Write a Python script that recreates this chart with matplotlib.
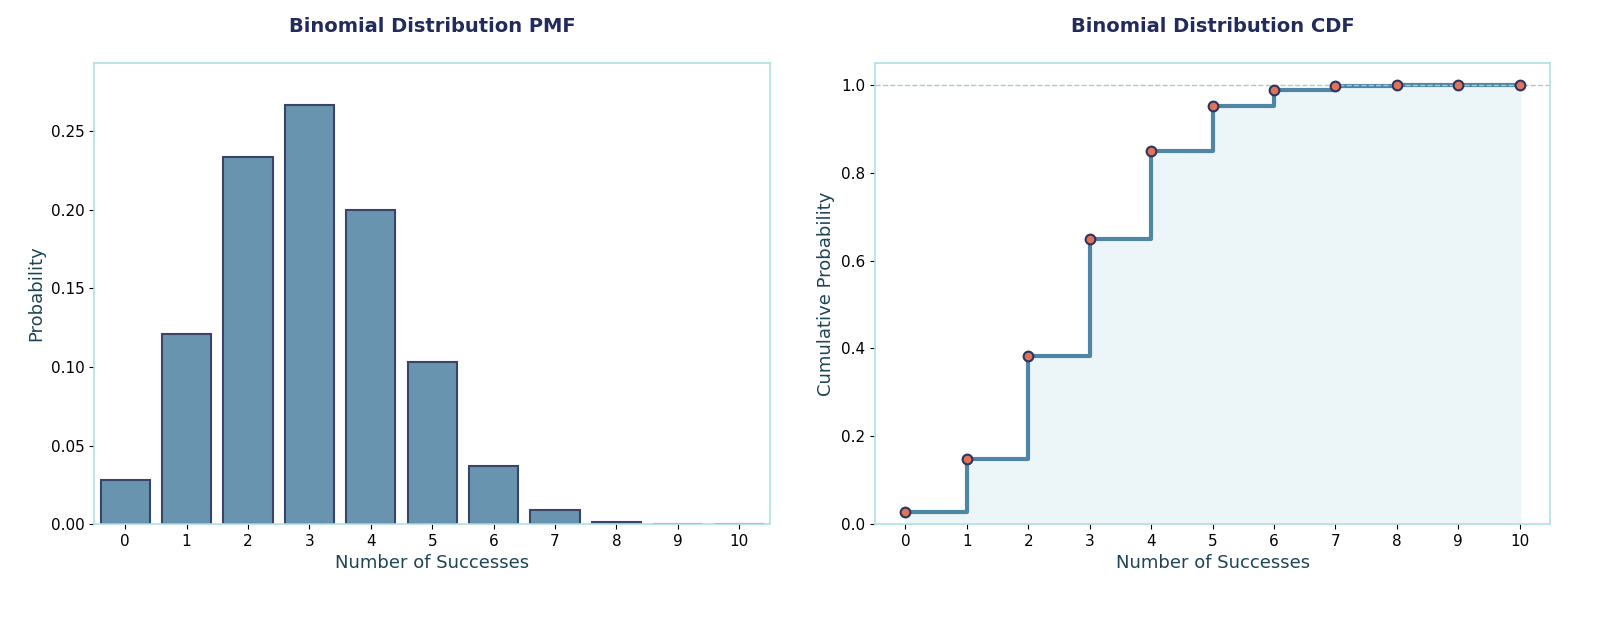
import matplotlib.pyplot as plt
import numpy as np

successes = list(range(11))
pmf = [0.0282, 0.1211, 0.2335, 0.2668, 0.2001, 0.1029, 0.0368, 0.0090, 0.0014, 0.0001, 0.0000]
cdf = [0.0282, 0.1493, 0.3828, 0.6496, 0.8497, 0.9527, 0.9894, 0.9984, 0.9999, 1.0000, 1.0000]

title_color = "#222b5c"
label_color = "#1e4457"
spine_color = "#b0dfe4"


def style_axes(ax):
    for s in ax.spines.values():
        s.set_color(spine_color)
        s.set_linewidth(1.2)
    ax.tick_params(labelsize=11)


def main():
    fig, (ax1, ax2) = plt.subplots(1, 2, figsize=(16, 6.24), dpi=100)

    # PMF
    ax1.bar(successes, pmf, width=0.8, color="#6894b0", edgecolor="#3a4468", linewidth=1.5)
    ax1.set_xlim(-0.5, 10.5)
    ax1.set_ylim(0, max(pmf) * 1.1)
    ax1.set_xticks(successes)
    ax1.set_title("Binomial Distribution PMF", fontsize=14, fontweight="bold",
                  color=title_color, pad=22)
    ax1.set_xlabel("Number of Successes", fontsize=13, color=label_color)
    ax1.set_ylabel("Probability", fontsize=13, color=label_color)
    style_axes(ax1)

    # CDF
    ax2.fill_between(successes, cdf, step="post", color="#ecf5f7")
    ax2.step(successes, cdf, where="post", color="#4f86a6", linewidth=3)
    ax2.plot(successes, cdf, "o", color="#e07358", markeredgecolor="#2c3560",
             markeredgewidth=1.5, markersize=7, zorder=5)
    ax2.axhline(1.0, color="#9fd0cb", linestyle="--", linewidth=1)
    ax2.set_xlim(-0.5, 10.5)
    ax2.set_ylim(0, 1.05)
    ax2.set_xticks(successes)
    ax2.set_title("Binomial Distribution CDF", fontsize=14, fontweight="bold",
                  color=title_color, pad=22)
    ax2.set_xlabel("Number of Successes", fontsize=13, color=label_color)
    ax2.set_ylabel("Cumulative Probability", fontsize=13, color=label_color)
    style_axes(ax2)

    fig.subplots_adjust(left=0.059, right=0.969, bottom=0.16, top=0.899, wspace=0.155)
    fig.savefig("out.png", dpi=100)


if __name__ == "__main__":
    main()
